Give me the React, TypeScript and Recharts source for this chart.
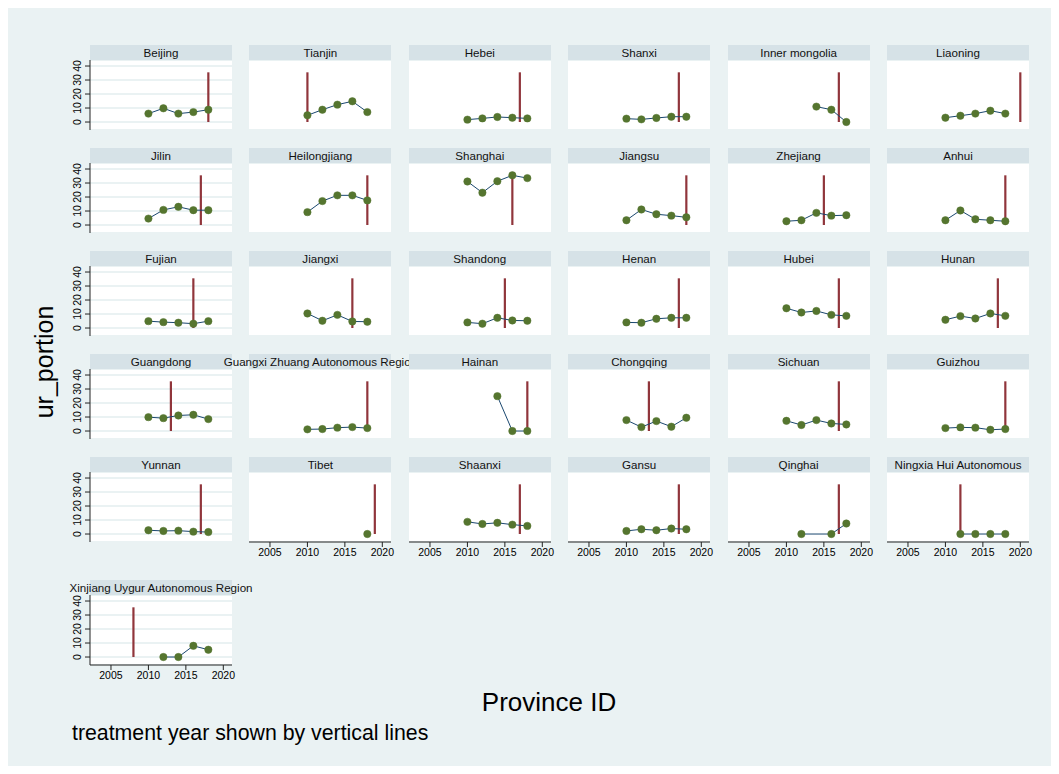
import React from 'react';
import { LineChart, Line, XAxis, YAxis, CartesianGrid, ReferenceLine } from 'recharts';

// survey waves shown on every panel
const waveYears = [2010, 2012, 2014, 2016, 2018];

const provinces = [
  'Beijing', 'Tianjin', 'Hebei', 'Shanxi', 'Inner mongolia', 'Liaoning',
  'Jilin', 'Heilongjiang', 'Shanghai', 'Jiangsu', 'Zhejiang', 'Anhui',
  'Fujian', 'Jiangxi', 'Shandong', 'Henan', 'Hubei', 'Hunan',
  'Guangdong', 'Guangxi Zhuang Autonomous Region', 'Hainan', 'Chongqing', 'Sichuan', 'Guizhou',
  'Yunnan', 'Tibet', 'Shaanxi', 'Gansu', 'Qinghai', 'Ningxia Hui Autonomous',
  'Xinjiang Uygur Autonomous Region',
];

const treatmentYears = [
  2018, 2010, 2017, 2017, 2017, 2020,
  2017, 2018, 2016, 2018, 2015, 2018,
  2016, 2016, 2015, 2017, 2017, 2017,
  2013, 2018, 2018, 2013, 2017, 2018,
  2017, 2019, 2017, 2017, 2017, 2012,
  2008,
];

// ur_portion by wave (2010, 2012, 2014, 2016, 2018)
const urPortion: (number | null)[][] = [
  [6.0, 9.8, 6.0, 7.1, 8.8],
  [4.8, 8.8, 12.4, 14.8, 7.1],
  [1.7, 2.6, 3.6, 3.1, 2.6],
  [2.4, 1.9, 2.9, 3.8, 3.8],
  [null, null, 11.0, 8.8, 0],
  [3.1, 4.5, 6.0, 8.1, 6.0],
  [4.6, 10.8, 13.0, 10.6, 10.6],
  [9.2, 17.1, 21.2, 21.2, 17.6],
  [31.1, 23.1, 31.3, 35.5, 33.5],
  [3.4, 11.1, 7.7, 6.7, 5.5],
  [2.7, 3.4, 8.7, 6.7, 7.0],
  [3.4, 10.4, 4.1, 3.4, 2.7],
  [4.9, 4.2, 3.8, 3.1, 4.9],
  [10.4, 5.2, 9.4, 4.7, 4.5],
  [4.0, 3.1, 7.3, 5.4, 5.2],
  [4.0, 3.8, 6.6, 7.3, 7.3],
  [14.1, 11.1, 12.2, 9.4, 8.7],
  [5.9, 8.5, 6.8, 10.4, 8.7],
  [9.9, 9.2, 11.1, 11.6, 8.5],
  [1.2, 1.4, 2.4, 2.8, 2.1],
  [null, null, 24.9, 0, 0],
  [7.8, 2.8, 7.1, 3.1, 9.5],
  [7.3, 4.3, 7.8, 5.4, 4.7],
  [2.1, 2.6, 2.4, 0.9, 1.4],
  [2.7, 2.2, 2.4, 1.7, 1.4],
  [null, null, null, null, 0],
  [8.7, 7.2, 8.0, 6.7, 5.8],
  [2.2, 3.4, 2.7, 3.9, 3.4],
  [null, 0, null, 0, 7.5],
  [null, 0, 0, 0, 0],
  [null, 0, 0, 8.0, 5.2],
];

const yTicks = [0, 10, 20, 30, 40];
const xTicks = [2005, 2010, 2015, 2020];

const FONT = '"Liberation Sans", Arial, Helvetica, sans-serif';
const BG = '#eaf2f3';
const STRIP = '#d6e2e7';
const NAVY = '#1a476f';
const MAROON = '#90353b';
const GREEN = '#55752f';

const PANEL_W = 142;
const PLOT_H = 70;
const AXIS_W = 30;
const RIGHT_PAD = 14;
const STRIP_H = 15;
const X_AXIS_H = 24;

const colLeft = (c: number) => 90 + 159.4 * c;
const rowTop = (r: number) => (r < 5 ? 60 + 103.1 * r : 595.3);

// vertical treatment lines run up to the overall max
const lineTop = Math.max(...urPortion.flat().filter((v): v is number => v !== null));

const YTick = (props: any) => {
  const { x, y, payload } = props;
  const bx = x - 2;
  return (
    <text x={bx} y={y} transform={`rotate(-90 ${bx} ${y})`} textAnchor="middle" fontSize={10.5} fill="#000" fontFamily={FONT}>
      {payload.value}
    </text>
  );
};

function Panel({ i }: { i: number }) {
  const row = Math.floor(i / 6);
  const col = i % 6;
  const showX = i + 6 >= provinces.length;
  const showY = col === 0;
  const left = colLeft(col);
  const top = rowTop(row);
  const data = waveYears.map((year, k) => ({ year, v: urPortion[i][k] }));
  const h = PLOT_H + (showX ? X_AXIS_H : 0);
  const w = PANEL_W + AXIS_W + RIGHT_PAD;

  return (
    <>
      <div
        style={{
          position: 'absolute', left, top: top - STRIP_H, width: PANEL_W, height: STRIP_H,
          background: STRIP, display: 'flex', justifyContent: 'center', alignItems: 'center',
          whiteSpace: 'nowrap', fontSize: 11.6, fontFamily: FONT, color: '#111',
        }}
      >
        <span>{provinces[i]}</span>
      </div>
      <div style={{ position: 'absolute', left: left - AXIS_W, top, width: w, height: h }}>
        <LineChart width={w} height={h} data={data} margin={{ top: 0, right: RIGHT_PAD, bottom: 0, left: 0 }}>
          <CartesianGrid vertical={false} stroke={BG} strokeWidth={2} fill="#fff" />
          <XAxis
            type="number" dataKey="year" domain={[2002.2, 2021.16]} ticks={xTicks} interval={0} allowDataOverflow
            hide={!showX} height={X_AXIS_H} tickSize={5} stroke="#222"
            tick={{ fontSize: 10.5, fill: '#000', fontFamily: FONT }}
          />
          <YAxis
            type="number" domain={[-5.7, 44.3]} ticks={yTicks} interval={0} allowDataOverflow width={AXIS_W}
            axisLine={showY ? { stroke: '#222' } : false} tickLine={showY ? { stroke: '#222' } : false}
            tickSize={5} tick={showY ? <YTick /> : false}
          />
          <ReferenceLine
            segment={[{ x: treatmentYears[i], y: 0 }, { x: treatmentYears[i], y: lineTop }]}
            stroke={MAROON} strokeWidth={2.2}
          />
          <Line
            type="linear" dataKey="v" stroke={NAVY} strokeWidth={1} connectNulls
            dot={{ r: 3.7, fill: GREEN, stroke: GREEN, strokeWidth: 0.5 }}
            isAnimationActive={false}
          />
        </LineChart>
      </div>
    </>
  );
}

export default function App() {
  return (
    <div style={{ position: 'absolute', left: 0, top: 0, width: 1059, height: 774, background: '#fff', fontFamily: FONT }}>
      <div style={{ position: 'absolute', left: 8, top: 8, width: 1043, height: 758, background: BG }} />
      <svg width={1059} height={774} style={{ position: 'absolute', left: 0, top: 0 }}>
        <text x={53} y={362} transform="rotate(-90 53 362)" textAnchor="middle" fontSize={25} fontFamily={FONT} fill="#000">
          ur_portion
        </text>
        <text x={549} y={711} textAnchor="middle" fontSize={26} fontFamily={FONT} fill="#000">
          Province ID
        </text>
        <text x={72} y={740} fontSize={21.3} fontFamily={FONT} fill="#000">
          treatment year shown by vertical lines
        </text>
      </svg>
      {provinces.map((_, i) => (
        <Panel key={i} i={i} />
      ))}
    </div>
  );
}
